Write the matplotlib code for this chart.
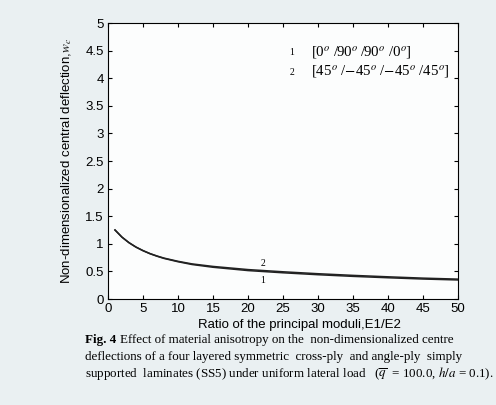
import matplotlib.pyplot as plt
import numpy as np

plt.rcParams['font.family'] = ['Liberation Sans', 'DejaVu Sans']
plt.rcParams['mathtext.fontset'] = 'stix'

# E1/E2 ratio and non-dimensional centre deflection
ratio = [1, 2, 3, 4, 5, 6, 7, 8, 10, 12, 15, 20, 25, 30, 35, 40, 45, 50]
w_cross = [1.25, 1.12, 1.02, 0.94, 0.875, 0.82, 0.775, 0.735, 0.675, 0.625, 0.575, 0.515,
           0.475, 0.44, 0.41, 0.385, 0.362, 0.345]
w_angle = [1.25, 1.12, 1.02, 0.94, 0.877, 0.823, 0.779, 0.741, 0.683, 0.636, 0.59, 0.533,
           0.493, 0.458, 0.428, 0.402, 0.378, 0.36]

legend_labels = [r'[0$^o$ /90$^o$ /90$^o$ /0$^o$]',
                 r'[45$^o$ /$-$45$^o$ /$-$45$^o$ /45$^o$]']

fig = plt.figure(figsize=(4.96, 4.05), dpi=100)
fig.patch.set_facecolor('#eaf0f2')
ax = fig.add_axes([108/496, 1 - 299/405, 350/496, 276/405])
ax.set_facecolor('#fcfdfd')

ax.plot(ratio, w_cross, color='#222222', lw=1.1)
ax.plot(ratio, w_angle, color='#222222', lw=1.1)

ax.set_xlim(0, 50)
ax.set_ylim(0, 5)
ax.set_xticks(np.arange(0, 51, 5))
ax.set_yticks(np.arange(0, 5.01, 0.5))
ax.set_yticklabels(['0', '0.5', '1', '1.5', '2', '2.5', '3', '3.5', '4', '4.5', '5'])
ax.tick_params(direction='in', top=True, right=True, labelsize=9.5, length=3, width=0.8, pad=3)
for s in ax.spines.values():
    s.set_linewidth(0.8)

ax.set_xlabel('Ratio of the principal moduli,E1/E2', fontsize=9.5, labelpad=0)
ax.xaxis.set_label_coords(0.546, -0.072)
ax.set_ylabel(r'Non-dimensionalized central deflection,$\mathit{w}_c$', fontsize=9.5, labelpad=8)

# curve labels
serif = ['Liberation Serif', 'DejaVu Serif']
ax.text(22.1, 0.65, '2', family=serif, fontsize=7, ha='center', va='center')
ax.text(22.1, 0.33, '1', family=serif, fontsize=7, ha='center', va='center')

# legend as text
ax.text(26.3, 4.47, '1', family=serif, fontsize=7, ha='center', va='center')
ax.text(26.3, 4.11, '2', family=serif, fontsize=7, ha='center', va='center')
ax.text(29.0, 4.47, legend_labels[0], family=serif, fontsize=10.7, va='center')
ax.text(29.0, 4.11, legend_labels[1], family=serif, fontsize=10.7, va='center')

# caption
fs = 9.4
fig.text(85/496, 1 - 340/405, 'Fig. 4', family=serif, fontweight='bold', fontsize=fs, va='center')
fig.text(120/496, 1 - 340/405, 'Effect of material anisotropy on the  non-dimensionalized centre',
         family=serif, fontsize=fs, va='center')
fig.text(85/496, 1 - 357/405, 'deflections of a four layered symmetric  cross-ply  and angle-ply  simply',
         family=serif, fontsize=fs, va='center')
fig.text(85/496, 1 - 374/405,
         r'supported  laminates (SS5) under uniform lateral load   ($\overline{q}$  = 100.0, $h/a$ = 0.1).',
         family=serif, fontsize=fs, va='center')

fig.savefig('out.png', dpi=100, facecolor=fig.get_facecolor())
